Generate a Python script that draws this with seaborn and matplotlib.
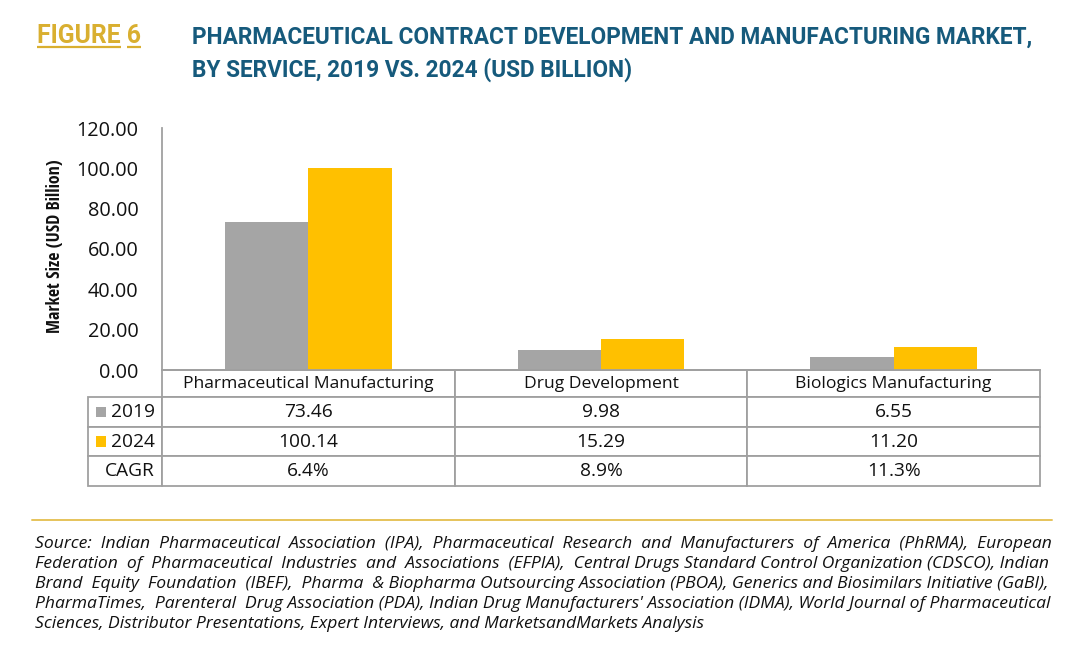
import matplotlib
matplotlib.use("Agg")
import matplotlib.pyplot as plt
from matplotlib.patches import Rectangle
from matplotlib.lines import Line2D
import seaborn as sns
import pandas as pd

# ---------------- data ----------------
categories = ["Pharmaceutical Manufacturing", "Drug Development", "Biologics Manufacturing"]
years = ["2019", "2024"]
values_2019 = [73.46, 9.98, 6.55]
values_2024 = [100.14, 15.29, 11.20]
cagr = ["6.4%", "8.9%", "11.3%"]
yticks = [0, 20, 40, 60, 80, 100, 120]

title_fig = "FIGURE 6"
title_lines = ["PHARMACEUTICAL CONTRACT DEVELOPMENT AND MANUFACTURING MARKET,",
               "BY SERVICE, 2019 VS. 2024 (USD BILLION)"]
ylabel = "Market Size (USD Billion)"
source_lines = [
    "Source: Indian Pharmaceutical Association (IPA), Pharmaceutical Research and Manufacturers of America (PhRMA), European",
    "Federation of Pharmaceutical Industries and Associations (EFPIA), Central Drugs Standard Control Organization (CDSCO), Indian",
    "Brand Equity Foundation (IBEF), Pharma & Biopharma Outsourcing Association (PBOA), Generics and Biosimilars Initiative (GaBI),",
    "PharmaTimes, Parenteral Drug Association (PDA), Indian Drug Manufacturers' Association (IDMA), World Journal of Pharmaceutical",
    "Sciences, Distributor Presentations, Expert Interviews, and MarketsandMarkets Analysis",
]

colors = {"2019": "#A5A5A5", "2024": "#FFC000"}
GOLD = "#D9AF30"
TEAL = "#165A7C"
GRID = "#A0A0A0"

df = pd.DataFrame({
    "Service": categories * 2,
    "Year": [years[0]] * 3 + [years[1]] * 3,
    "Value": values_2019 + values_2024,
})

# ---------------- figure ----------------
sns.set_style("white")
plt.rcParams["font.family"] = ["Open Sans", "DejaVu Sans"]

W, H = 1080, 648
fig = plt.figure(figsize=(W / 100, H / 100), dpi=100)
renderer = fig.canvas.get_renderer()

def fx(px):
    return px / W

def fy(py):
    return 1 - py / H

def fit(t, target, horizontal=True):
    """scale a text's font size so its extent matches target pixels"""
    for _ in range(3):
        bb = t.get_window_extent(renderer)
        cur = bb.width if horizontal else bb.height
        if cur > 0:
            t.set_fontsize(t.get_fontsize() * target / cur)
    return t

ax_l, ax_r, ax_t, ax_b = 162, 1040, 128, 370
ax = fig.add_axes([fx(ax_l), fy(ax_b), fx(ax_r - ax_l), (ax_b - ax_t) / H])

sns.barplot(data=df, x="Service", y="Value", hue="Year", order=categories,
            hue_order=years, palette=colors, width=0.57, saturation=1,
            edgecolor="none", linewidth=0, ax=ax, legend=False)

ax.set_ylim(0, 120)
ax.set_xlim(-0.5, 2.5)
ax.set_yticks(yticks)
ax.set_yticklabels([f"{v:.2f}" for v in yticks], fontsize=14.3, color="#111111")
ax.set_xticks(range(len(categories)))
ax.set_xticklabels([])
ax.tick_params(axis="both", length=0)
ax.tick_params(axis="y", pad=17)
ax.set_xlabel("")
ylab = ax.set_ylabel(ylabel, fontsize=13, fontweight="bold", family="Open Sans Condensed",
                     va="center", color="#111111")
ax.yaxis.set_label_coords((55.5 - ax_l) / (ax_r - ax_l), (ax_b - 246.5) / (ax_b - ax_t))
fit(ylab, 173, horizontal=False)
for s in ["top", "right"]:
    ax.spines[s].set_visible(False)
for s in ["left", "bottom"]:
    ax.spines[s].set_color(GRID)
    ax.spines[s].set_linewidth(1.3)
ax.grid(False)

# ---------------- table ----------------
axw = ax_r - ax_l
axh = ax_b - ax_t
tab_left = 88
row_h = [27, 29.7, 29.7, 29.7]
tab_h = sum(row_h)
row_labels = years + ["CAGR"]
cell_text = [[row_labels[0]] + [f"{v:.2f}" for v in values_2019],
             [row_labels[1]] + [f"{v:.2f}" for v in values_2024],
             [row_labels[2]] + cagr]
lab_w = (ax_l - tab_left) / axw
tbl = ax.table(cellText=cell_text, colLabels=[""] + categories,
               colWidths=[lab_w] + [1 / 3] * 3,
               cellLoc="center", colLoc="center",
               bbox=[(tab_left - ax_l) / axw, -tab_h / axh, (ax_r - tab_left) / axw, tab_h / axh])
tbl.auto_set_font_size(False)
for (r, c), cell in tbl.get_celld().items():
    cell.set_edgecolor(GRID)
    cell.set_linewidth(1.3)
    cell.set_height(row_h[r] / axh)
    t = cell.get_text()
    t.set_color("#111111")
    if r == 0:
        t.set_fontsize(12.6)
    else:
        t.set_fontsize(13.8)
    if c == 0:
        t.set_horizontalalignment("right")
        if r == 0:
            cell.visible_edges = "open"

# legend squares in the row-label cells
for i, yr in enumerate(years):
    top = ax_b + row_h[0] + sum(row_h[1:1 + i])
    yc = top + row_h[1 + i] / 2
    sq = 10.5
    fig.add_artist(Rectangle((fx(95.5), fy(yc + sq / 2)), sq / W, sq / H,
                             transform=fig.transFigure, facecolor=colors[yr],
                             edgecolor="none"))

# ---------------- titles ----------------
title_kw = dict(family="Roboto", fontweight="bold", va="baseline", ha="left")
t1 = fig.text(fx(192), fy(43.3), title_lines[0], fontsize=17, color=TEAL, **title_kw)
fit(t1, 1028 - 192)
tsize = t1.get_fontsize()
fig.text(fx(192), fy(43.3 + 33.4), title_lines[1], fontsize=tsize, color=TEAL, **title_kw)

t_fig = fig.text(fx(37), fy(43.3), title_fig, fontsize=tsize, color=GOLD, **title_kw)
fit(t_fig, 141 - 37)
fsize = t_fig.get_fontsize()

# underline "FIGURE" and "6" separately
bb_all = t_fig.get_window_extent(renderer)
tmp = fig.text(fx(37), fy(43.3), title_fig.split(" ")[0], fontsize=fsize, **title_kw)
bb_first = tmp.get_window_extent(renderer)
tmp.remove()
tmp2 = fig.text(fx(37), fy(43.3), title_fig.split(" ")[1], fontsize=fsize, **title_kw)
w_last = tmp2.get_window_extent(renderer).width
tmp2.remove()
uy = fy(46.5)
fig.add_artist(Line2D([bb_all.x0 / W, bb_first.x1 / W], [uy, uy], color=GOLD, lw=1.6,
                      transform=fig.transFigure, solid_capstyle="butt"))
fig.add_artist(Line2D([(bb_all.x1 - w_last) / W, bb_all.x1 / W], [uy, uy], color=GOLD,
                      lw=1.6, transform=fig.transFigure, solid_capstyle="butt"))

# separator line
fig.add_artist(Line2D([fx(32), fx(1052)], [fy(519.5), fy(519.5)], color="#E6C35A",
                      lw=1.4, transform=fig.transFigure))

# ---------------- source text (justified) ----------------
src_left, src_right = 35, 1050
target = src_right - src_left
src_kw = dict(family="Open Sans", style="italic", fontsize=11, color="#111111",
              va="baseline", ha="left")
last = fig.text(fx(src_left), fy(548 + 20 * 4), source_lines[-1], **src_kw)
fit(last, 703 - src_left)
src_kw["fontsize"] = last.get_fontsize()
texts = [fig.text(fx(src_left), fy(548 + 20 * i), line, **src_kw)
         for i, line in enumerate(source_lines[:-1])]
widest = max(t.get_window_extent(renderer).width for t in texts)
if widest > target - 10:
    scale = (target - 10) / widest
    src_kw["fontsize"] *= scale
    for t in texts + [last]:
        t.set_fontsize(src_kw["fontsize"])
probe1 = fig.text(0, 0, "a a", **src_kw)
probe2 = fig.text(0, 0, "aa", **src_kw)
space_w = probe1.get_window_extent(renderer).width - probe2.get_window_extent(renderer).width
probe1.remove()
probe2.remove()
for t, line in zip(texts, source_lines[:-1]):
    w = t.get_window_extent(renderer).width
    words = line.split(" ")
    gaps = len(words) - 1
    extra = int(round((target - w) / space_w)) if space_w > 0 else 0
    if extra > 0 and gaps > 0:
        parts = []
        for k, wd in enumerate(words[:-1]):
            n = 1 + extra // gaps + (1 if k < extra % gaps else 0)
            parts.append(wd + " " * n)
        parts.append(words[-1])
        t.set_text("".join(parts))

fig.savefig("out.png", dpi=100)
